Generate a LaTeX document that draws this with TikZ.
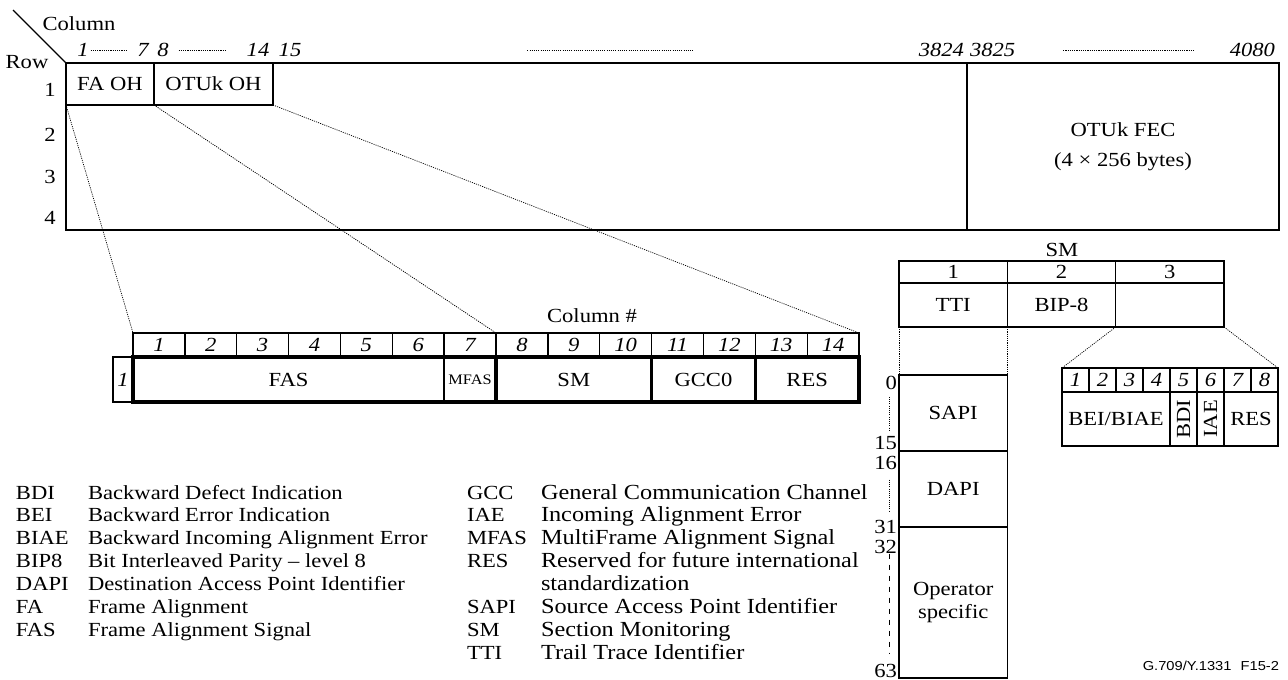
\documentclass[tikz,border=0pt]{standalone}
\usepackage{fontspec}
\setmainfont{Liberation Serif}[FakeStretch=1.13]
\newfontfamily\figsans{Liberation Sans}[FakeStretch=1.13]
\usetikzlibrary{calc}
\begin{document}
\begin{tikzpicture}[x=1pt,y=-1pt,
  every node/.style={inner sep=0pt, outer sep=0pt, font=\fontsize{20}{23}\selectfont},
  box/.style={draw, line width=1.3pt, anchor=north west, align=center},
  thickbox/.style={draw, line width=3.2pt, anchor=north west},
  hdr/.style={font=\fontsize{20}{23}\selectfont\itshape},
  dotline/.style={line width=0.7pt, dash pattern=on 1.1pt off 1.1pt},
  dashline/.style={line width=0.9pt, dash pattern=on 5pt off 6pt},
  lg/.style={anchor=base west},
  lgr/.style={anchor=base west, font=\fontsize{21.5}{24}\selectfont}]
\useasboundingbox (0,0) rectangle (1288,680);

% ---------- main OTUk frame ----------
\node[box, minimum width=1213pt, minimum height=167pt] (frame) at (66,63) {};
\node[box, minimum width=88pt, minimum height=42pt] (faoh) at (66,63) {FA OH};
\node[box, minimum width=119pt, minimum height=42pt] (otuoh) at (154,63) {OTUk OH};
\node[box, minimum width=312pt, minimum height=167pt, font=\fontsize{20}{30}\selectfont] (fec) at (967,63) {OTUk FEC\\(4 × 256 bytes)};

\node (r1) at (50,90) {1};
\node (r2) at (50,135) {2};
\node (r3) at (50,177) {3};
\node (r4) at (50,218) {4};
\node (rowlbl) at (27,62) {Row};
\node (collbl) at (79,24) {Column};
\coordinate (diagstart) at (13,10);
\draw[line width=1.3pt] (diagstart) -- (frame.north west);

\node[hdr] (l1) at (83,50) {1};
\node[hdr] (l7) at (143,50) {7};
\node[hdr] (l8) at (163,50) {8};
\node[hdr] (l14) at (258,50) {14};
\node[hdr] (l15) at (290,50) {15};
\node[hdr, anchor=east] (l3824) at (964,50) {3824};
\node[hdr, anchor=west] (l3825) at (970,50) {3825};
\node[hdr, anchor=east] (l4080) at (1275,50) {4080};
\draw[dotline, shorten <=2pt, shorten >=10pt] (l1) -- (l7);
\draw[dotline, shorten <=10pt, shorten >=20pt] (l8) -- (l14);
\draw[dotline, shorten <=226pt, shorten >=225pt] (l15) -- (l3824);
\draw[dotline, shorten <=48pt, shorten >=35pt] (l3825) -- (l4080);

% ---------- OTUk overhead bytes 1..14 ----------
\foreach \i in {1,...,14}
  \node[box, hdr, minimum width=51.857pt, minimum height=24pt] (h\i) at ({133+(\i-1)*51.857},333) {\i};
\node[anchor=north west, minimum width=311pt, minimum height=45pt] (fas) at (133,357) {FAS};
\node[anchor=north west, minimum width=52pt, minimum height=45pt, font=\fontsize{14.5}{16}\selectfont] (mfas) at (444,357) {MFAS};
\draw[line width=1.3pt] (mfas.north west) -- (mfas.south west);
\draw[line width=3.2pt] (fas.north west) rectangle (mfas.south east);
\node[thickbox, minimum width=155.57pt, minimum height=45pt] (smf) at (496,357) {SM};
\node[thickbox, minimum width=103.71pt, minimum height=45pt] (gcc) at (651.57,357) {GCC0};
\node[thickbox, minimum width=103.71pt, minimum height=45pt] (resf) at (755.29,357) {RES};
\node[box, hdr, minimum width=20pt, minimum height=45pt] (rowone) at (113,357) {1};
\node (colnum) at (592,316) {Column \#};

\draw[dotline] (faoh.south west) -- (h1.north west);
\draw[dotline] (faoh.south east) -- (h7.north east);
\draw[dotline] (otuoh.south east) -- (h14.north east);

% ---------- SM bytes ----------
\node (smlbl) at (1062,250) {SM};
\foreach \i in {1,2,3}
  \node[box, minimum width=108.33pt, minimum height=22pt] (s\i) at ({899+(\i-1)*108.33},261) {\i};
\node[box, minimum width=108.33pt, minimum height=44pt] (tti) at (899,283) {TTI};
\node[box, minimum width=108.33pt, minimum height=44pt] (bip) at (1007.33,283) {BIP-8};
\node[box, minimum width=108.33pt, minimum height=44pt] (sm3) at (1115.67,283) {};

\node[box, minimum width=108.33pt, minimum height=76pt] (sapi) at (899,375) {SAPI};
\node[box, minimum width=108.33pt, minimum height=76pt] (dapi) at (899,451) {DAPI};
\node[box, minimum width=108.33pt, minimum height=151pt] (opsp) at (899,527) {Operator\\specific};
\draw[dotline] (tti.south west) -- (sapi.north west);
\draw[dotline] (tti.south east) -- (sapi.north east);

\node[anchor=east] (n0) at (897,383) {0};
\node[anchor=east] (n15) at (897,443) {15};
\node[anchor=east] (n16) at (897,463) {16};
\node[anchor=east] (n31) at (897,527) {31};
\node[anchor=east] (n32) at (897,547) {32};
\node[anchor=east] (n63) at (897,671) {63};
\coordinate (vx) at (889,0);
\draw[dotline, shorten <=7pt, shorten >=6pt] (vx |- n0.south) -- (vx |- n15.north);
\draw[dotline, shorten <=10pt, shorten >=8pt] (vx |- n16.south) -- (vx |- n31.north);
\draw[dashline, shorten <=0pt, shorten >=11pt] (vx |- n32.south) -- (vx |- n63.north);

% ---------- SM byte 3 bits ----------
\foreach \i in {1,...,8}
  \node[box, hdr, minimum width=27pt, minimum height=24pt] (b\i) at ({1062+(\i-1)*27},368) {\i};
\node[box, minimum width=108pt, minimum height=54pt] (bei) at (1062,392) {BEI/BIAE};
\node[box, minimum width=27pt, minimum height=54pt] (bdi) at (1170,392) {};
\node[rotate=90] (bditxt) at (bdi.center) {BDI};
\node[box, minimum width=27pt, minimum height=54pt] (iae) at (1197,392) {};
\node[rotate=90] (iaetxt) at (iae.center) {IAE};
\node[box, minimum width=54pt, minimum height=54pt] (res2) at (1224,392) {RES};
\draw[dotline] (sm3.south west) -- (b1.north west);
\draw[dotline] (sm3.south east) -- (b8.north east);

% ---------- legend ----------
\foreach \a/\d [count=\k from 0] in {BDI/Backward Defect Indication, BEI/Backward Error Indication,
    BIAE/Backward Incoming Alignment Error, BIP8/Bit Interleaved Parity – level 8,
    DAPI/Destination Access Point Identifier, FA/Frame Alignment, FAS/Frame Alignment Signal} {
  \node[lg] (la\k) at (16,{499+\k*22.86}) {\a};
  \node[lg] (ld\k) at (88,{499+\k*22.86}) {\d};
}
\foreach \a/\d/\k in {GCC/General Communication Channel/0, IAE/Incoming Alignment Error/1,
    MFAS/MultiFrame Alignment Signal/2, RES/Reserved for future international/3,
    SAPI/Source Access Point Identifier/5, SM/Section Monitoring/6, TTI/Trail Trace Identifier/7} {
  \node[lg] (ra\k) at (467,{499+\k*22.86}) {\a};
  \node[lgr] (rd\k) at (541,{499+\k*22.86}) {\d};
}
\node[lgr] (rd4) at (541,{499+4*22.86}) {standardization};

\node[anchor=base east, font=\figsans\fontsize{13}{15}\selectfont] (figid) at (1279,670) {G.709/Y.1331\hspace{0.7em}F15-2};
\end{tikzpicture}
\end{document}
